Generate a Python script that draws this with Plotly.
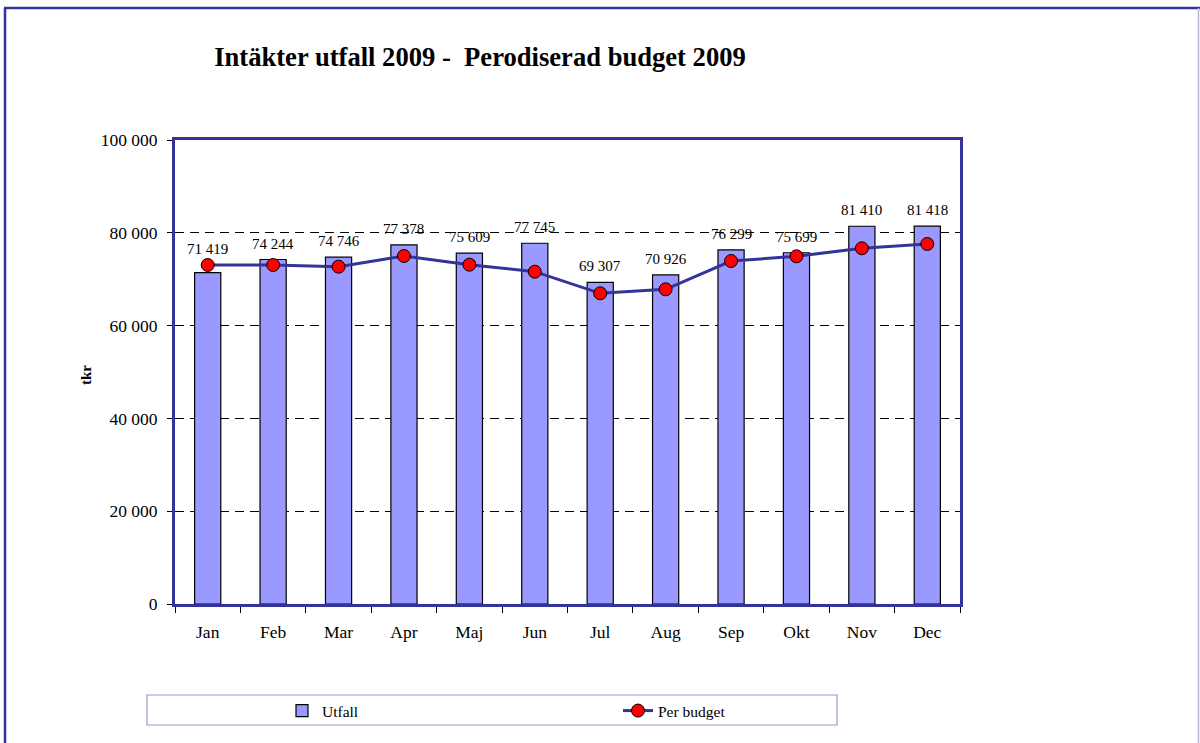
import plotly.graph_objects as go

months = ["Jan", "Feb", "Mar", "Apr", "Maj", "Jun", "Jul", "Aug", "Sep", "Okt", "Nov", "Dec"]
utfall = [71419, 74244, 74746, 77378, 75609, 77745, 69307, 70926, 76299, 75699, 81410, 81418]
per_budget = [73060, 73060, 72700, 75000, 73130, 71620, 66960, 67820, 73920, 74930, 76660, 77590]

NAVY = "#333399"
FONT = "Liberation Serif, Times New Roman, serif"

W, H = 1200, 743
PLOT_L, PLOT_R, PLOT_T, PLOT_B = 175, 960, 140, 604
L, R, T, B = PLOT_L, W - PLOT_R, PLOT_T, H - PLOT_B
PW, PH = PLOT_R - PLOT_L, PLOT_B - PLOT_T

def px(x):  # screen x -> paper
    return (x - PLOT_L) / PW

def py(y):  # screen y -> paper
    return (PLOT_B - y) / PH

fig = go.Figure()
fig.add_trace(go.Bar(
    x=months, y=utfall, name="Utfall", width=0.4,
    marker=dict(color="#9999FF", line=dict(color="black", width=1.2)),
    legend="legend",
))
fig.add_trace(go.Scatter(
    x=months, y=per_budget, name="Per budget", mode="lines+markers",
    line=dict(color=NAVY, width=3),
    marker=dict(color="#FF0000", size=13, line=dict(color="black", width=1)),
    legend="legend2",
))

for m, v, b in zip(months, utfall, per_budget):
    fig.add_annotation(x=m, y=max(v, b), text=f"{v:,}".replace(",", " "), showarrow=False,
                       yshift=16, font=dict(family=FONT, size=15, color="black"))

fig.add_annotation(xref="paper", yref="paper", x=px(76), y=py(375), text="<b>tkr</b>",
                   textangle=-90, showarrow=False, font=dict(family=FONT, size=15, color="black"))

shapes = [
    dict(type="line", xref="paper", yref="paper", x0=px(5), x1=px(5), y0=py(8), y1=py(760),
         line=dict(color=NAVY, width=2.5)),
    dict(type="line", xref="paper", yref="paper", x0=px(4), x1=px(1205), y0=py(8), y1=py(8),
         line=dict(color=NAVY, width=2.5)),
    dict(type="line", xref="paper", yref="paper", x0=px(1198.5), x1=px(1198.5), y0=py(8), y1=py(760),
         line=dict(color="#B8B8D8", width=1.5)),
    dict(type="rect", xref="paper", yref="paper", x0=px(147), x1=px(837), y0=py(695), y1=py(725),
         line=dict(color="#9999CC", width=1.2), fillcolor="rgba(0,0,0,0)"),
]

fig.update_layout(
    width=W, height=H,
    margin=dict(l=L, r=R, t=T, b=B),
    paper_bgcolor="white", plot_bgcolor="white",
    separators=", ",
    font=dict(family=FONT, size=17, color="black"),
    title=dict(text="<b>Intäkter utfall 2009 -  Perodiserad budget 2009</b>",
               xref="container", x=480 / W, xanchor="center", y=1 - 57 / H, yanchor="middle",
               font=dict(family=FONT, size=26.6, color="black")),
    xaxis=dict(type="category", range=[-0.5, 11.5], showline=True, mirror=True,
               linecolor=NAVY, linewidth=3,
               ticks="outside", tickson="boundaries", ticklen=6, tickcolor="black",
               ticklabelstandoff=10,
               tickfont=dict(family=FONT, size=17.5), showgrid=False),
    yaxis=dict(range=[0, 100000], dtick=20000, tickformat=",d", showline=True, mirror=True,
               linecolor=NAVY, linewidth=3, ticks="outside", ticklen=5, tickcolor="black",
               ticklabelstandoff=6,
               showgrid=True, gridcolor="black", griddash="9px,6px", gridwidth=1,
               zeroline=False, tickfont=dict(family=FONT, size=17.5)),
    bargap=0.6,
    showlegend=True,
    legend=dict(x=px(323) - 41 / PW, y=py(711), xanchor="left", yanchor="middle", orientation="h",
                bgcolor="rgba(0,0,0,0)", font=dict(family=FONT, size=15.5)),
    legend2=dict(x=px(659) - 41 / PW, y=py(711), xanchor="left", yanchor="middle", orientation="h",
                 bgcolor="rgba(0,0,0,0)", font=dict(family=FONT, size=15.5)),
    shapes=shapes,
)

fig.write_html("out.html", config={"displayModeBar": False},
               post_script="document.body.style.margin='0';document.body.style.overflow='hidden';")
